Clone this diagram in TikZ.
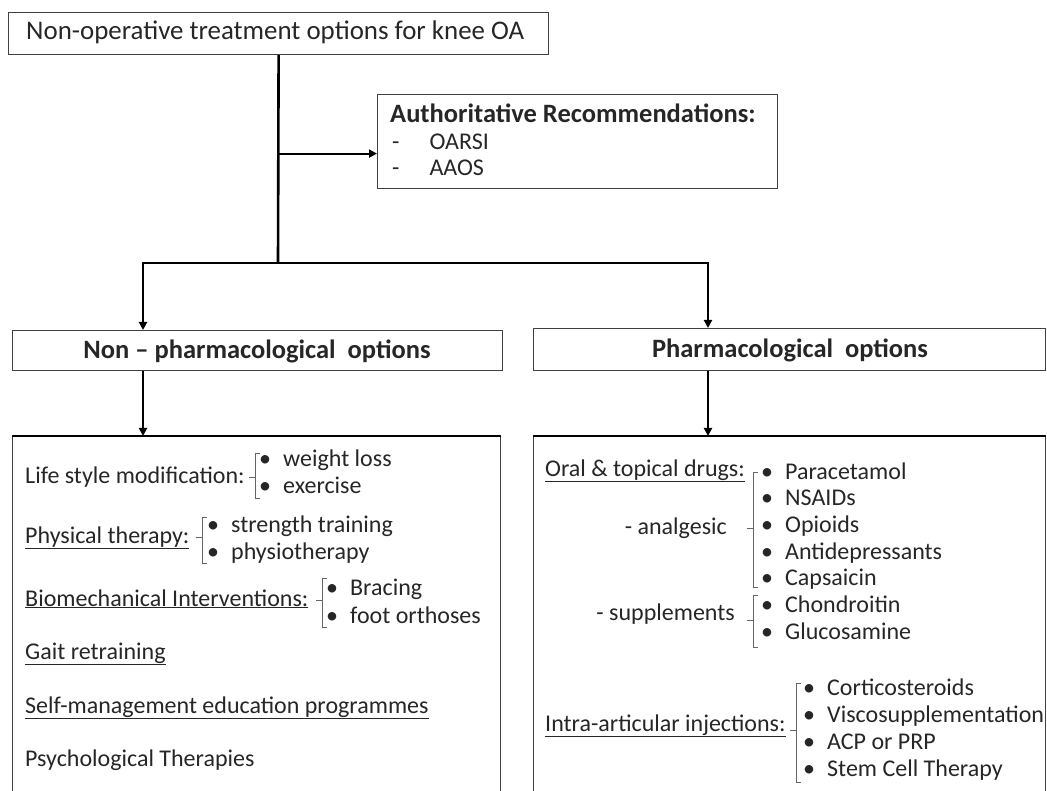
\documentclass[tikz,border=0pt]{standalone}
\usepackage{fontspec}
\setmainfont{Carlito}
\usetikzlibrary{arrows.meta}

\newcommand{\bul}{\makebox[24pt][l]{\textbullet}}

\tikzset{
  box/.style={draw=black!75, line width=1.2pt, rectangle, inner sep=0pt, anchor=north west},
  trunk/.style={line width=2.6pt, draw=black},
  link/.style={line width=2pt, draw=black, -{Triangle[length=8pt,width=8pt]}},
  brk/.style={draw=black!60, line width=0.9pt},
  txt/.style={anchor=west, inner sep=0pt, text height=17pt, text depth=7pt, text=black!85, font=\fontsize{24}{28}\selectfont},
  head/.style={txt, font=\fontsize{26.5}{30}\selectfont\bfseries},
}

\begin{document}
\begin{tikzpicture}[x=1pt, y=-1pt]
	\useasboundingbox (0,0) rectangle (1047,791);
	\clip (0,0) rectangle (1047,791);
	% boxes
	\node[box, minimum width=540pt, minimum height=42pt] (title) at (8,12) {};
	\node[txt, font=\fontsize{26.9}{30}\selectfont] (titletext) at (26,35) {Non-operative treatment options for knee OA};
	\node[box, minimum width=400pt, minimum height=94pt] (recs) at (377,94) {};
	\node[head] (recshead) at (390,118) {Authoritative Recommendations:};
	\node[txt] (oarsi) at (392,145) {-\hspace{30pt}OARSI};
	\node[txt] (aaos) at (392,171) {-\hspace{30pt}AAOS};
	\node[box, minimum width=490pt, minimum height=40pt] (nonpharm) at (12,330) {};
	\node[head, anchor=center] (nonpharmtext) at (257,354) {Non -- pharmacological\ \ options};
	\node[box, minimum width=512pt, minimum height=42pt] (pharm) at (533,328) {};
	\node[head, anchor=center] (pharmtext) at (790,353) {Pharmacological\ \ options};
	\node[box, minimum width=488pt, minimum height=420pt] (nonlist) at (12,436) {};
	\node[box, minimum width=512pt, minimum height=420pt] (pharmlist) at (533,436) {};
	\draw[line width=2pt] (nonlist.north west) -- (nonlist.north east);
	\draw[line width=2pt] (pharmlist.north west) -- (pharmlist.north east);
	% connectors
	\coordinate (split) at (278,263);
	\coordinate (recsin) at ([yshift=-12pt]recs.west);
	\draw[trunk] (title.south) -- (split);
	\draw[link] (title.south |- recsin) -- (recsin);
	\draw[trunk] (143,263) -- (708,263);
	\draw[link] (split) -| ([xshift=131pt]nonpharm.north west);
	\draw[link] (split) -| ([xshift=175pt]pharm.north west);
	\draw[link] ([xshift=131pt]nonpharm.south west) -- ([xshift=131pt]nonlist.north west);
	\draw[link] ([xshift=175pt]pharm.south west) -- ([xshift=175pt]pharmlist.north west);
	% non-pharmacological list
	\node[txt] (life) at (25,478) {Life style modification:};
	\node[txt] (phys) at (25,538) {\underline{Physical therapy:}};
	\node[txt] (biomech) at (25,601) {\underline{Biomechanical Interventions:}};
	\node[txt] (gait) at (25,654) {\underline{Gait retraining}};
	\node[txt] (selfman) at (25,708) {\underline{Self-management education programmes}};
	\node[txt] (psych) at (25,761) {Psychological Therapies};
	\node[txt] (weight) at (259,461) {\bul weight loss};
	\node[txt] (exercise) at (259,488) {\bul exercise};
	\node[txt] (strength) at (207,527) {\bul strength training};
	\node[txt] (physio) at (207,554) {\bul physiotherapy};
	\node[txt] (bracing) at (326,590) {\bul Bracing};
	\node[txt] (orthoses) at (326,618) {\bul foot orthoses};
	% pharmacological list
	\node[txt] (oral) at (545,471) {\underline{Oral \& topical drugs:}};
	\node[txt, anchor=east] (analgesic) at (727,529) {- analgesic};
	\node[txt, anchor=east] (supplements) at (735,615) {- supplements};
	\node[txt] (intra) at (545,726) {\underline{Intra-articular injections:}};
	\foreach \drug [count=\i] in {Paracetamol, NSAIDs, Opioids, Antidepressants, Capsaicin, Chondroitin, Glucosamine}
		\node[txt] (drug\i) at (761,{474+26.67*(\i-1)}) {\bul \drug};
	\foreach \inj [count=\i] in {Corticosteroids, Viscosupplementation, ACP or PRP, Stem Cell Therapy}
		\node[txt] (inj\i) at (803,{690+27*(\i-1)}) {\bul \inj};
	% brackets
	\foreach \x/\a/\b/\m in {255/453/498/477, 202/517/563/537, 322/578/627/600, 753/472/587/528, 753/595/647/620, 796/683/782/730}
		\draw[brk] (\x+5,\a) -- (\x,\a) -- (\x,\b) -- (\x+5,\b) (\x,\m) -- (\x-6,\m);
\end{tikzpicture}
\end{document}
